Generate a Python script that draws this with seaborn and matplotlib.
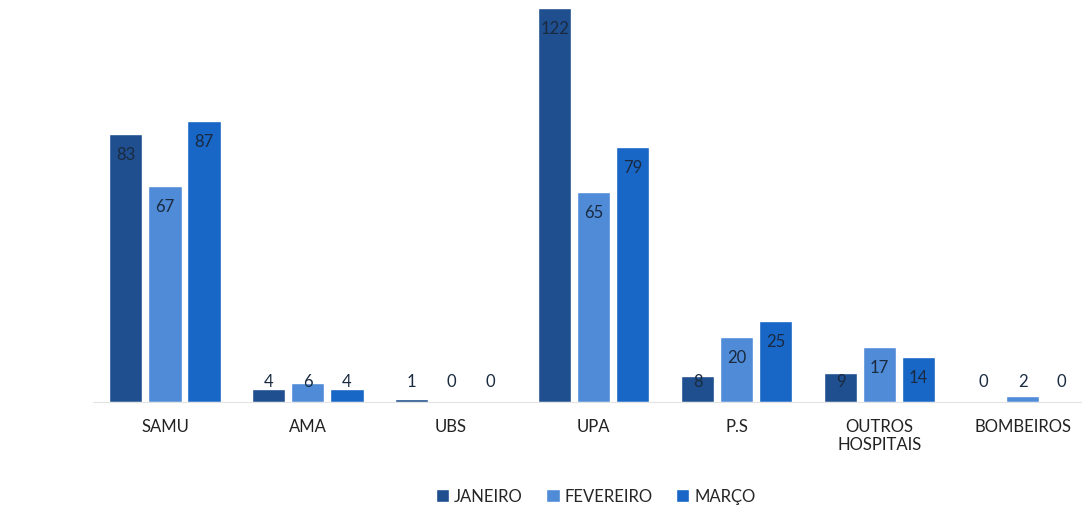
import pandas as pd
import seaborn as sns
import matplotlib.pyplot as plt

# values
categories = ["SAMU", "AMA", "UBS", "UPA", "P.S", "OUTROS\nHOSPITAIS", "BOMBEIROS"]
months = ["JANEIRO", "FEVEREIRO", "MARÇO"]
janeiro = [83, 4, 1, 122, 8, 9, 0]
fevereiro = [67, 6, 0, 65, 20, 17, 2]
marco = [87, 4, 0, 79, 25, 14, 0]

colors = ["#1f4f8f", "#4f8bd6", "#1866c6"]

df = pd.DataFrame({
    "categoria": categories * 3,
    "mes": [months[0]] * 7 + [months[1]] * 7 + [months[2]] * 7,
    "valor": janeiro + fevereiro + marco,
})

sns.set_style("white")
plt.rcParams["font.family"] = ["Lato", "DejaVu Sans"]

fig = plt.figure(figsize=(10.82, 5.07), dpi=100)
ax = fig.add_axes([0.0864, 0.207, 0.9136, 0.793])

sns.barplot(data=df, x="categoria", y="valor", hue="mes", palette=colors,
            saturation=1, width=0.82, gap=0.15, ax=ax, legend=True)

ax.set_ylim(0, 124.5)
ax.set_xlim(-0.5, 6.416)

# data labels near the top of each bar
for container, vals in zip(ax.containers, [janeiro, fevereiro, marco]):
    for patch, v in zip(container.patches, vals):
        x = patch.get_x() + patch.get_width() / 2
        y = max(v, 12.7) - 6.5
        ax.text(x, y, str(v), ha="center", va="center", fontsize=12, color="#1a2a40")

ax.set_xlabel("")
ax.set_ylabel("")
ax.set_yticks([])
ax.tick_params(axis="x", length=0, pad=12, labelsize=12, labelcolor="#222222")
for side in ["top", "right", "left"]:
    ax.spines[side].set_visible(False)
ax.spines["bottom"].set_color("#e3e3e3")

ax.legend(loc="center", bbox_to_anchor=(0.508, -0.235), ncol=3, frameon=False,
          fontsize=12, handlelength=0.8, handleheight=0.8, handletextpad=0.3,
          columnspacing=1.4)

fig.savefig("out.png", dpi=100)
